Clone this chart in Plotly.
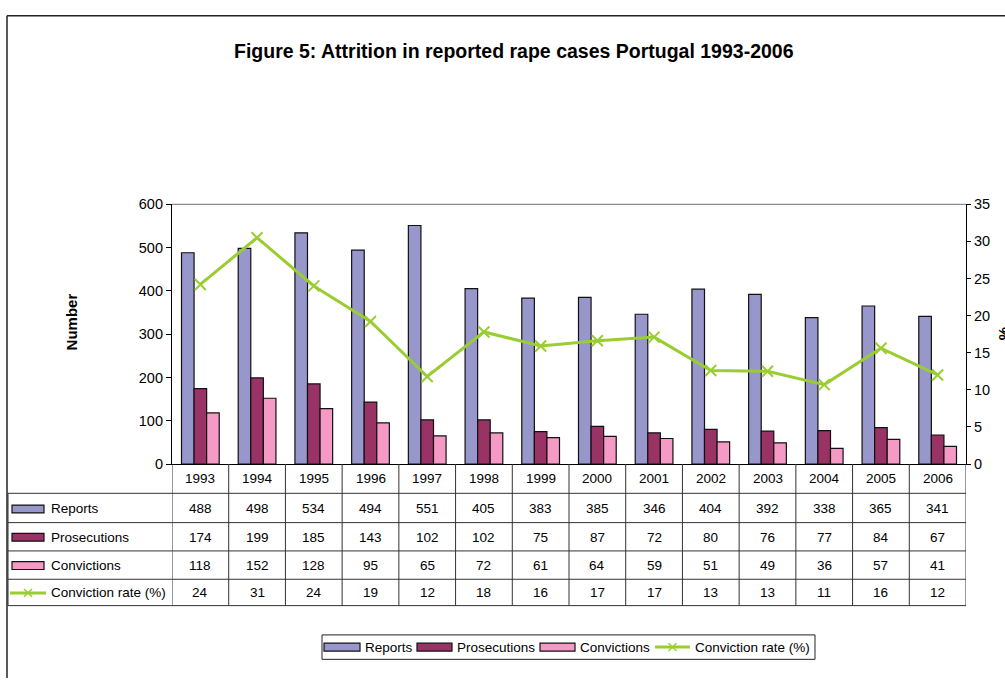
import plotly.graph_objects as go

W, H = 1005, 681

years = ["1993", "1994", "1995", "1996", "1997", "1998", "1999", "2000",
         "2001", "2002", "2003", "2004", "2005", "2006"]
reports = [488, 498, 534, 494, 551, 405, 383, 385, 346, 404, 392, 338, 365, 341]
prosecutions = [174, 199, 185, 143, 102, 102, 75, 87, 72, 80, 76, 77, 84, 67]
convictions = [118, 152, 128, 95, 65, 72, 61, 64, 59, 51, 49, 36, 57, 41]
rate = [24.2, 30.5, 24.0, 19.2, 11.8, 17.8, 15.9, 16.6, 17.1, 12.6, 12.5, 10.7, 15.6, 12.0]
rate_labels = [24, 31, 24, 19, 12, 18, 16, 17, 17, 13, 13, 11, 16, 12]

series_names = ["Reports", "Prosecutions", "Convictions", "Conviction rate (%)"]
C_REP, C_PRO, C_CON, C_LINE = "#9797CB", "#993366", "#F59AC5", "#9ACD32"
FONT = "Liberation Sans, Arial, sans-serif"
TS = 13.5


def px(x):
    return x / W


def py(y):
    return 1 - y / H


PL, PR, PT, PB = 172, 966, 201, 467
xs = list(range(len(years)))

fig = go.Figure()
for vals, name, col in [(reports, series_names[0], C_REP),
                        (prosecutions, series_names[1], C_PRO),
                        (convictions, series_names[2], C_CON)]:
    fig.add_trace(go.Bar(x=xs, y=vals, name=name, marker_color=col,
                         marker_line_color="#111111", marker_line_width=1.2,
                         showlegend=False, yaxis="y"))
fig.add_trace(go.Scatter(x=xs, y=rate, name=series_names[3], yaxis="y2",
                         mode="lines+markers",
                         line=dict(color=C_LINE, width=3),
                         marker=dict(symbol="x-thin", size=11,
                                     line=dict(color=C_LINE, width=2)),
                         showlegend=False))

shapes = []
ann = []
LC = "#333333"


def txt(x, y, text, xref="paper", xanchor="center", size=TS, angle=0):
    ann.append(dict(x=x, y=y, xref=xref, yref="paper", text=text, showarrow=False,
                    xanchor=xanchor, yanchor="middle", textangle=angle,
                    font=dict(family=FONT, size=size, color="black")))


# outer frame
shapes.append(dict(type="line", xref="paper", yref="paper", x0=px(7), x1=px(W + 5),
                   y0=py(8), y1=py(8), line=dict(color="#222", width=1.5)))
shapes.append(dict(type="line", xref="paper", yref="paper", x0=px(7), x1=px(7),
                   y0=py(8), y1=py(H + 5), line=dict(color="#222", width=1.5)))
# top border of plot area
shapes.append(dict(type="line", xref="paper", yref="paper", x0=px(PL), x1=px(PR),
                   y0=py(PT), y1=py(PT), line=dict(color="#8c8c8c", width=1.2)))

# data table
row_lines = [497, 527, 556, 585, 612]
for yl in row_lines:
    shapes.append(dict(type="line", xref="paper", yref="paper", x0=px(8), x1=px(PR),
                       y0=py(yl), y1=py(yl), line=dict(color=LC, width=1)))
shapes.append(dict(type="line", xref="paper", yref="paper", x0=px(8), x1=px(8),
                   y0=py(497), y1=py(612), line=dict(color=LC, width=1)))
for i in range(len(years) + 1):
    shapes.append(dict(type="line", xref="x", yref="paper", x0=i - 0.5, x1=i - 0.5,
                       y0=py(PB), y1=py(612), line=dict(color=LC, width=1)))

row_y = [513, 542, 571, 599]
rows = [reports, prosecutions, convictions, rate_labels]
for i, yr in enumerate(years):
    txt(i, py(482), yr, xref="x")
    for r, vals in enumerate(rows):
        txt(i, py(row_y[r]), str(vals[i]), xref="x")

colors = [C_REP, C_PRO, C_CON]


def key(x0, x1, yc, r):
    if r < 3:
        shapes.append(dict(type="rect", xref="paper", yref="paper", x0=px(x0), x1=px(x1),
                           y0=py(yc - 4), y1=py(yc + 4), fillcolor=colors[r],
                           line=dict(color="#111", width=1.2)))
    else:
        shapes.append(dict(type="line", xref="paper", yref="paper", x0=px(x0), x1=px(x1),
                           y0=py(yc), y1=py(yc), line=dict(color=C_LINE, width=3)))
        xm = (x0 + x1) / 2
        for d in (1, -1):
            shapes.append(dict(type="line", xref="paper", yref="paper",
                               x0=px(xm - 4), x1=px(xm + 4), y0=py(yc - 4 * d),
                               y1=py(yc + 4 * d), line=dict(color=C_LINE, width=1.5)))


for r in range(4):
    if r < 3:
        key(12, 44, row_y[r], r)
    else:
        key(10, 46, row_y[r], r)
    txt(px(49), py(row_y[r]), series_names[r], xanchor="left")

# bottom legend
shapes.append(dict(type="rect", xref="paper", yref="paper", x0=px(322), x1=px(815),
                   y0=py(642), y1=py(667), line=dict(color="#222", width=1)))
LY = 654.5
leg = [(324, 360, 363), (417, 452, 455), (540, 575, 578), (655, 690, 693)]
for r, (k0, k1, tx) in enumerate(leg):
    key(k0, k1, LY, r)
    txt(px(tx), py(LY), series_names[r], xanchor="left")

# titles
txt(px(514), py(44), "<b>Figure 5: Attrition in reported rape cases Portugal 1993-2006</b>", size=19.5)
txt(px(71), py(322), "<b>Number</b>", size=15, angle=-90)
txt(px(1003), py(334), "<b>%</b>", size=15, angle=-90)

axfont = dict(family=FONT, size=14.5, color="black")
fig.update_layout(
    width=W, height=H, margin=dict(l=0, r=0, t=0, b=0),
    paper_bgcolor="white", plot_bgcolor="white",
    barmode="group", bargap=0.335, bargroupgap=0,
    xaxis=dict(domain=[px(PL), px(PR)], range=[-0.5, 13.5], showticklabels=False,
               ticks="", showgrid=False, zeroline=False, showline=True,
               linecolor="black", linewidth=1.2, fixedrange=True),
    yaxis=dict(domain=[py(PB), py(PT)], range=[0, 600], dtick=100, ticks="outside",
               ticklen=5, tickcolor="black", showgrid=False, zeroline=False,
               showline=True, linecolor="black", linewidth=1.2, tickfont=axfont),
    yaxis2=dict(overlaying="y", side="right", anchor="x", range=[0, 35], dtick=5,
                ticks="outside", ticklen=4, tickcolor="black", showgrid=False,
                zeroline=False, showline=True, linecolor="black", linewidth=1.2,
                tickfont=axfont),
    shapes=shapes, annotations=ann, showlegend=False,
)

fig.write_html("out.html", config={"displayModeBar": False},
               post_script="document.body.style.margin='0';")
